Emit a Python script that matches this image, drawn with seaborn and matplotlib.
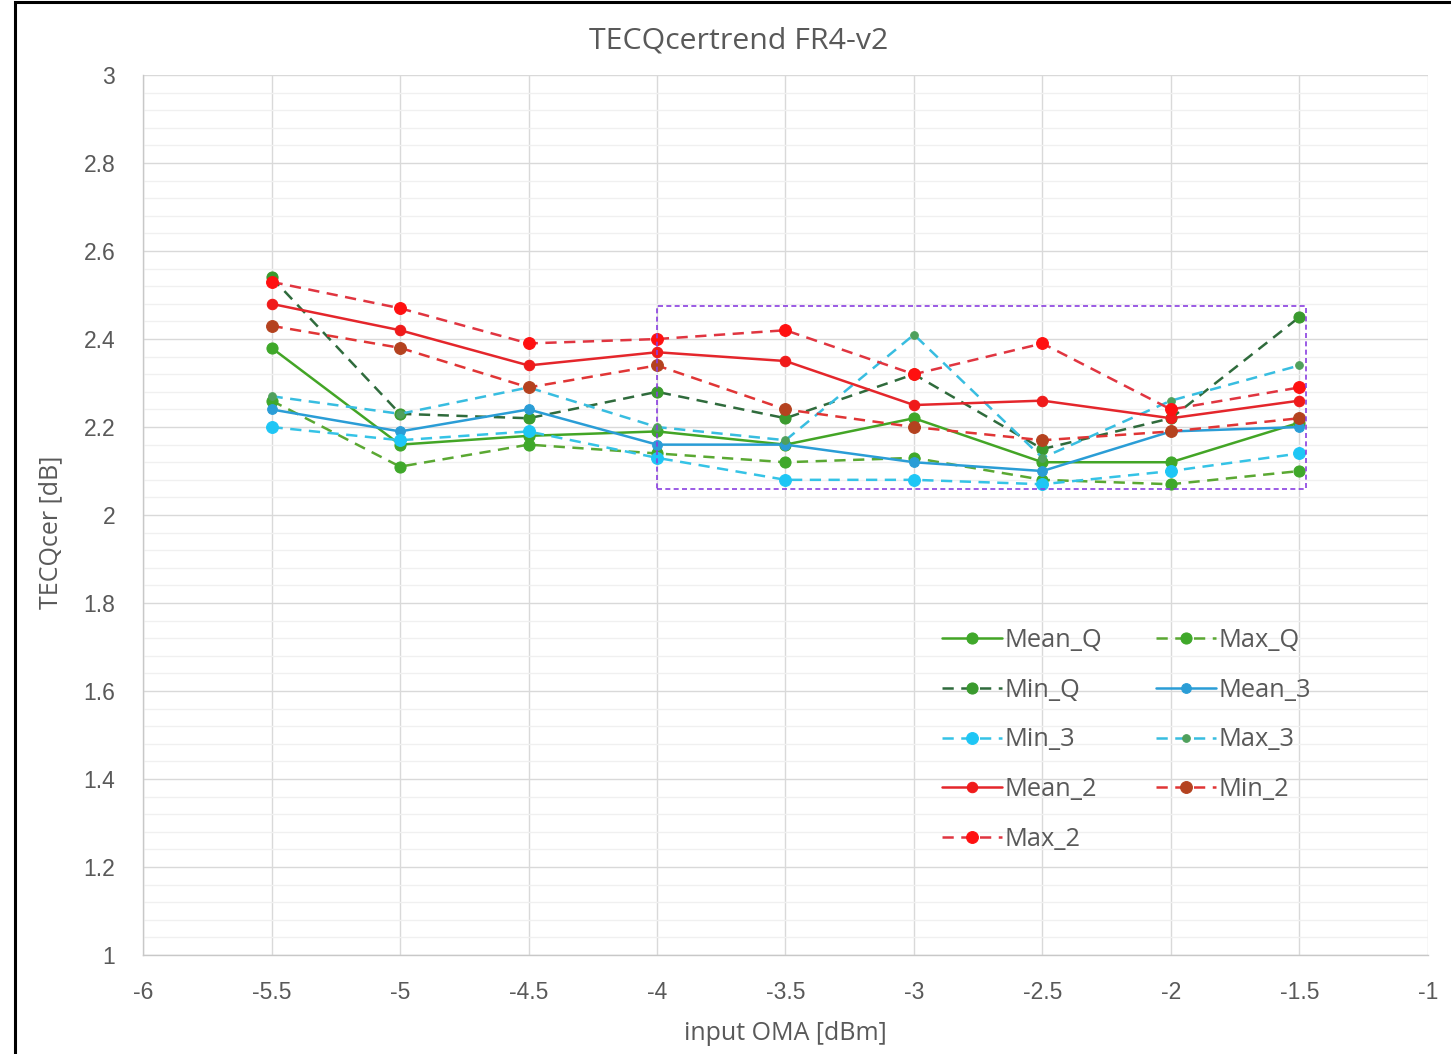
"""
TECQcer trend FR4-v2: mean/min/max per input OMA for three populations.
"""

import matplotlib
matplotlib.use('Agg')
import matplotlib.pyplot as plt
from matplotlib.patches import Rectangle
from matplotlib.ticker import MultipleLocator
import seaborn as sns
import pandas as pd

# input OMA [dBm]
oma = [-5.5, -5.0, -4.5, -4.0, -3.5, -3.0, -2.5, -2.0, -1.5]

# TECQcer [dB] per series
mean_q = [2.38, 2.16, 2.18, 2.19, 2.16, 2.22, 2.12, 2.12, 2.21]
max_q = [2.26, 2.11, 2.16, 2.14, 2.12, 2.13, 2.08, 2.07, 2.10]
min_q = [2.54, 2.23, 2.22, 2.28, 2.22, 2.32, 2.15, 2.22, 2.45]
mean_3 = [2.24, 2.19, 2.24, 2.16, 2.16, 2.12, 2.10, 2.19, 2.20]
min_3 = [2.20, 2.17, 2.19, 2.13, 2.08, 2.08, 2.07, 2.10, 2.14]
max_3 = [2.27, 2.23, 2.29, 2.20, 2.17, 2.41, 2.13, 2.26, 2.34]
mean_2 = [2.48, 2.42, 2.34, 2.37, 2.35, 2.25, 2.26, 2.22, 2.26]
min_2 = [2.43, 2.38, 2.29, 2.34, 2.24, 2.20, 2.17, 2.19, 2.22]
max_2 = [2.53, 2.47, 2.39, 2.40, 2.42, 2.32, 2.39, 2.24, 2.29]

# highlighted region (x0, x1, y0, y1)
box_x = [-4.0, -1.475]
box_y = [2.059, 2.475]

DASH = (0, (4.5, 3))

# name, values, line colour, marker colour, linestyle, marker size
series = [
    ('Mean_Q', mean_q, '#43a526', '#3fa82a', '-', 8),
    ('Max_Q', max_q, '#5aa832', '#3fa82a', DASH, 8),
    ('Min_Q', min_q, '#2f6b3c', '#3a9a2e', DASH, 8),
    ('Mean_3', mean_3, '#2a9dd6', '#2a9dd6', '-', 7),
    ('Min_3', min_3, '#35c3e6', '#1ec6f5', DASH, 8.5),
    ('Max_3', max_3, '#38bde0', '#4fa05c', DASH, 5.5),
    ('Mean_2', mean_2, '#e4262b', '#f01a1a', '-', 7.5),
    ('Min_2', min_2, '#e03535', '#b4421f', DASH, 8.5),
    ('Max_2', max_2, '#e03540', '#ff1010', DASH, 8.5),
]

sns.set_theme(style='white')
plt.rcParams['font.family'] = ['Open Sans', 'DejaVu Sans']

fig = plt.figure(figsize=(14.51, 10.54), dpi=100)
ax = fig.add_axes([0.0986, 0.0939, 0.8855, 0.8349])

handles = {}
for name, vals, lc, mc, ls, ms in series:
    df = pd.DataFrame({'oma': oma, 'val': vals})
    sns.lineplot(data=df, x='oma', y='val', ax=ax, color=lc, linestyle=ls,
                 linewidth=1.8, marker='o', markersize=ms,
                 markerfacecolor=mc, markeredgecolor=mc, label=name,
                 legend=False)
    handles[name] = ax.lines[-1]

ax.add_patch(Rectangle((box_x[0], box_y[0]), box_x[1] - box_x[0],
                       box_y[1] - box_y[0], fill=False, edgecolor='#8a3fe0',
                       linestyle=(0, (3, 2)), linewidth=1.2, zorder=5))

ax.set_xlim(-6, -1)
ax.set_ylim(1, 3)
ax.xaxis.set_major_locator(MultipleLocator(0.5))
ax.yaxis.set_major_locator(MultipleLocator(0.2))
ax.yaxis.set_minor_locator(MultipleLocator(0.04))
xt = [-6.0] + oma + [-1.0]
ax.set_xticks(xt)
ax.set_xticklabels([f'{v:g}' for v in xt])
yt = [1 + 0.2 * i for i in range(11)]
ax.set_yticks(yt)
ax.set_yticklabels([f'{v:.1f}'.rstrip('0').rstrip('.') for v in yt])

ax.grid(True, which='major', color='#d9d9d9', linewidth=1.0)
ax.grid(True, which='minor', axis='y', color='#f0f0f0', linewidth=1.0)
ax.set_axisbelow(True)
for side in ['top', 'right']:
    ax.spines[side].set_visible(False)
for side in ['left', 'bottom']:
    ax.spines[side].set_color('#c8c8c8')
    ax.spines[side].set_linewidth(1.0)

ax.tick_params(axis='both', which='both', length=0, colors='#595959')
ax.tick_params(axis='y', labelsize=16.5, pad=20)
ax.tick_params(axis='x', labelsize=16.5, pad=19)
for lab in ax.get_xticklabels() + ax.get_yticklabels():
    lab.set_family(['Liberation Sans', 'DejaVu Sans'])

fig.text(739 / 1451, 1 - 41 / 1054, 'TECQcertrend FR4-v2', fontsize=21.8,
         color='#595959', ha='center', va='center')
ax.set_xlabel('input OMA [dBm]', fontsize=18, color='#595959', labelpad=12)
ax.set_ylabel('TECQcer [dB]', fontsize=18, color='#595959', labelpad=16)
ax.yaxis.set_label_coords(-0.062, 0.48)

# legend reads row by row in the original, matplotlib fills columns
order = ['Mean_Q', 'Min_Q', 'Min_3', 'Mean_2', 'Max_2',
         'Max_Q', 'Mean_3', 'Max_3', 'Min_2']
leg = ax.legend([handles[n] for n in order], order, ncol=2, frameon=False,
                loc='upper left', bbox_to_anchor=(0.604, 0.398),
                fontsize=18.3, handlelength=2.36, handletextpad=0.1,
                columnspacing=2.1, labelspacing=0.98)
for t in leg.get_texts():
    t.set_color('#595959')

# outer frame of the chart image
fig.patches.append(Rectangle((0.0103, -0.01), 1.0, 1.008, transform=fig.transFigure,
                             fill=False, edgecolor='black', linewidth=2.2))

fig.savefig('out.png', dpi=100)
